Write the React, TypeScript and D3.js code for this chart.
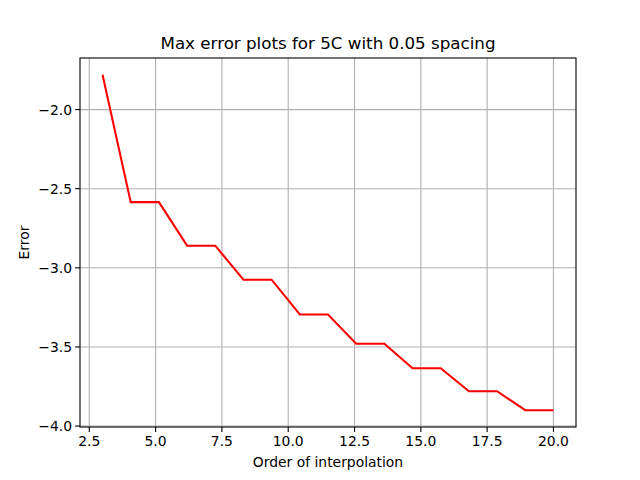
import React from "react";
import * as d3 from "d3";

const xs = [3, 4.0625, 5.125, 6.1875, 7.25, 8.3125, 9.375, 10.4375, 11.5, 12.5625, 13.625, 14.6875, 15.75, 16.8125, 17.875, 18.9375, 20];
const ys = [-1.78, -2.585, -2.585, -2.86, -2.86, -3.075, -3.075, -3.295, -3.295, -3.48, -3.48, -3.635, -3.635, -3.78, -3.78, -3.9, -3.9];
const xTicks = [2.5, 5.0, 7.5, 10.0, 12.5, 15.0, 17.5, 20.0];
const yTicks = [-2.0, -2.5, -3.0, -3.5, -4.0];

export default function App() {
  const L = 80, R = 576, T = 58, B = 427;
  const x = d3.scaleLinear().domain([2.15, 20.85]).range([L, R]);
  const y = d3.scaleLinear().domain([-4.006, -1.674]).range([B, T]);
  const line = d3.line<number>().x((_, i) => x(xs[i])).y(d => y(d));
  const font = "DejaVu Sans";
  return (
    <svg width={640} height={480} style={{ position: "absolute", left: 0, top: 0 }} fontFamily={font}>
      <rect width={640} height={480} fill="white" />
      {xTicks.map(t => (
        <g key={t}>
          <line x1={x(t)} x2={x(t)} y1={T} y2={B} stroke="#b0b0b0" strokeWidth={1.1} />
          <line x1={x(t)} x2={x(t)} y1={B} y2={B + 4.9} stroke="black" strokeWidth={1.1} />
          <text x={x(t)} y={B + 19} fontSize={13.9} textAnchor="middle">{t.toFixed(1)}</text>
        </g>
      ))}
      {yTicks.map(t => (
        <g key={t}>
          <line x1={L} x2={R} y1={y(t)} y2={y(t)} stroke="#b0b0b0" strokeWidth={1.1} />
          <line x1={L - 4.9} x2={L} y1={y(t)} y2={y(t)} stroke="black" strokeWidth={1.1} />
          <text x={L - 8} y={y(t) + 5} fontSize={13.9} textAnchor="end">{t.toFixed(1).replace("-", "\u2212")}</text>
        </g>
      ))}
      <path d={line(ys) || ""} fill="none" stroke="red" strokeWidth={2.08} />
      <rect x={L} y={T} width={R - L} height={B - T} fill="none" stroke="black" strokeWidth={1.1} />
      <text x={(L + R) / 2} y={T - 9} fontSize={16.7} textAnchor="middle">Max error plots for 5C with 0.05 spacing</text>
      <text x={(L + R) / 2} y={467} fontSize={13.9} textAnchor="middle">Order of interpolation</text>
      <text transform={`translate(29,${(T + B) / 2}) rotate(-90)`} fontSize={13.9} textAnchor="middle">Error</text>
    </svg>
  );
}
